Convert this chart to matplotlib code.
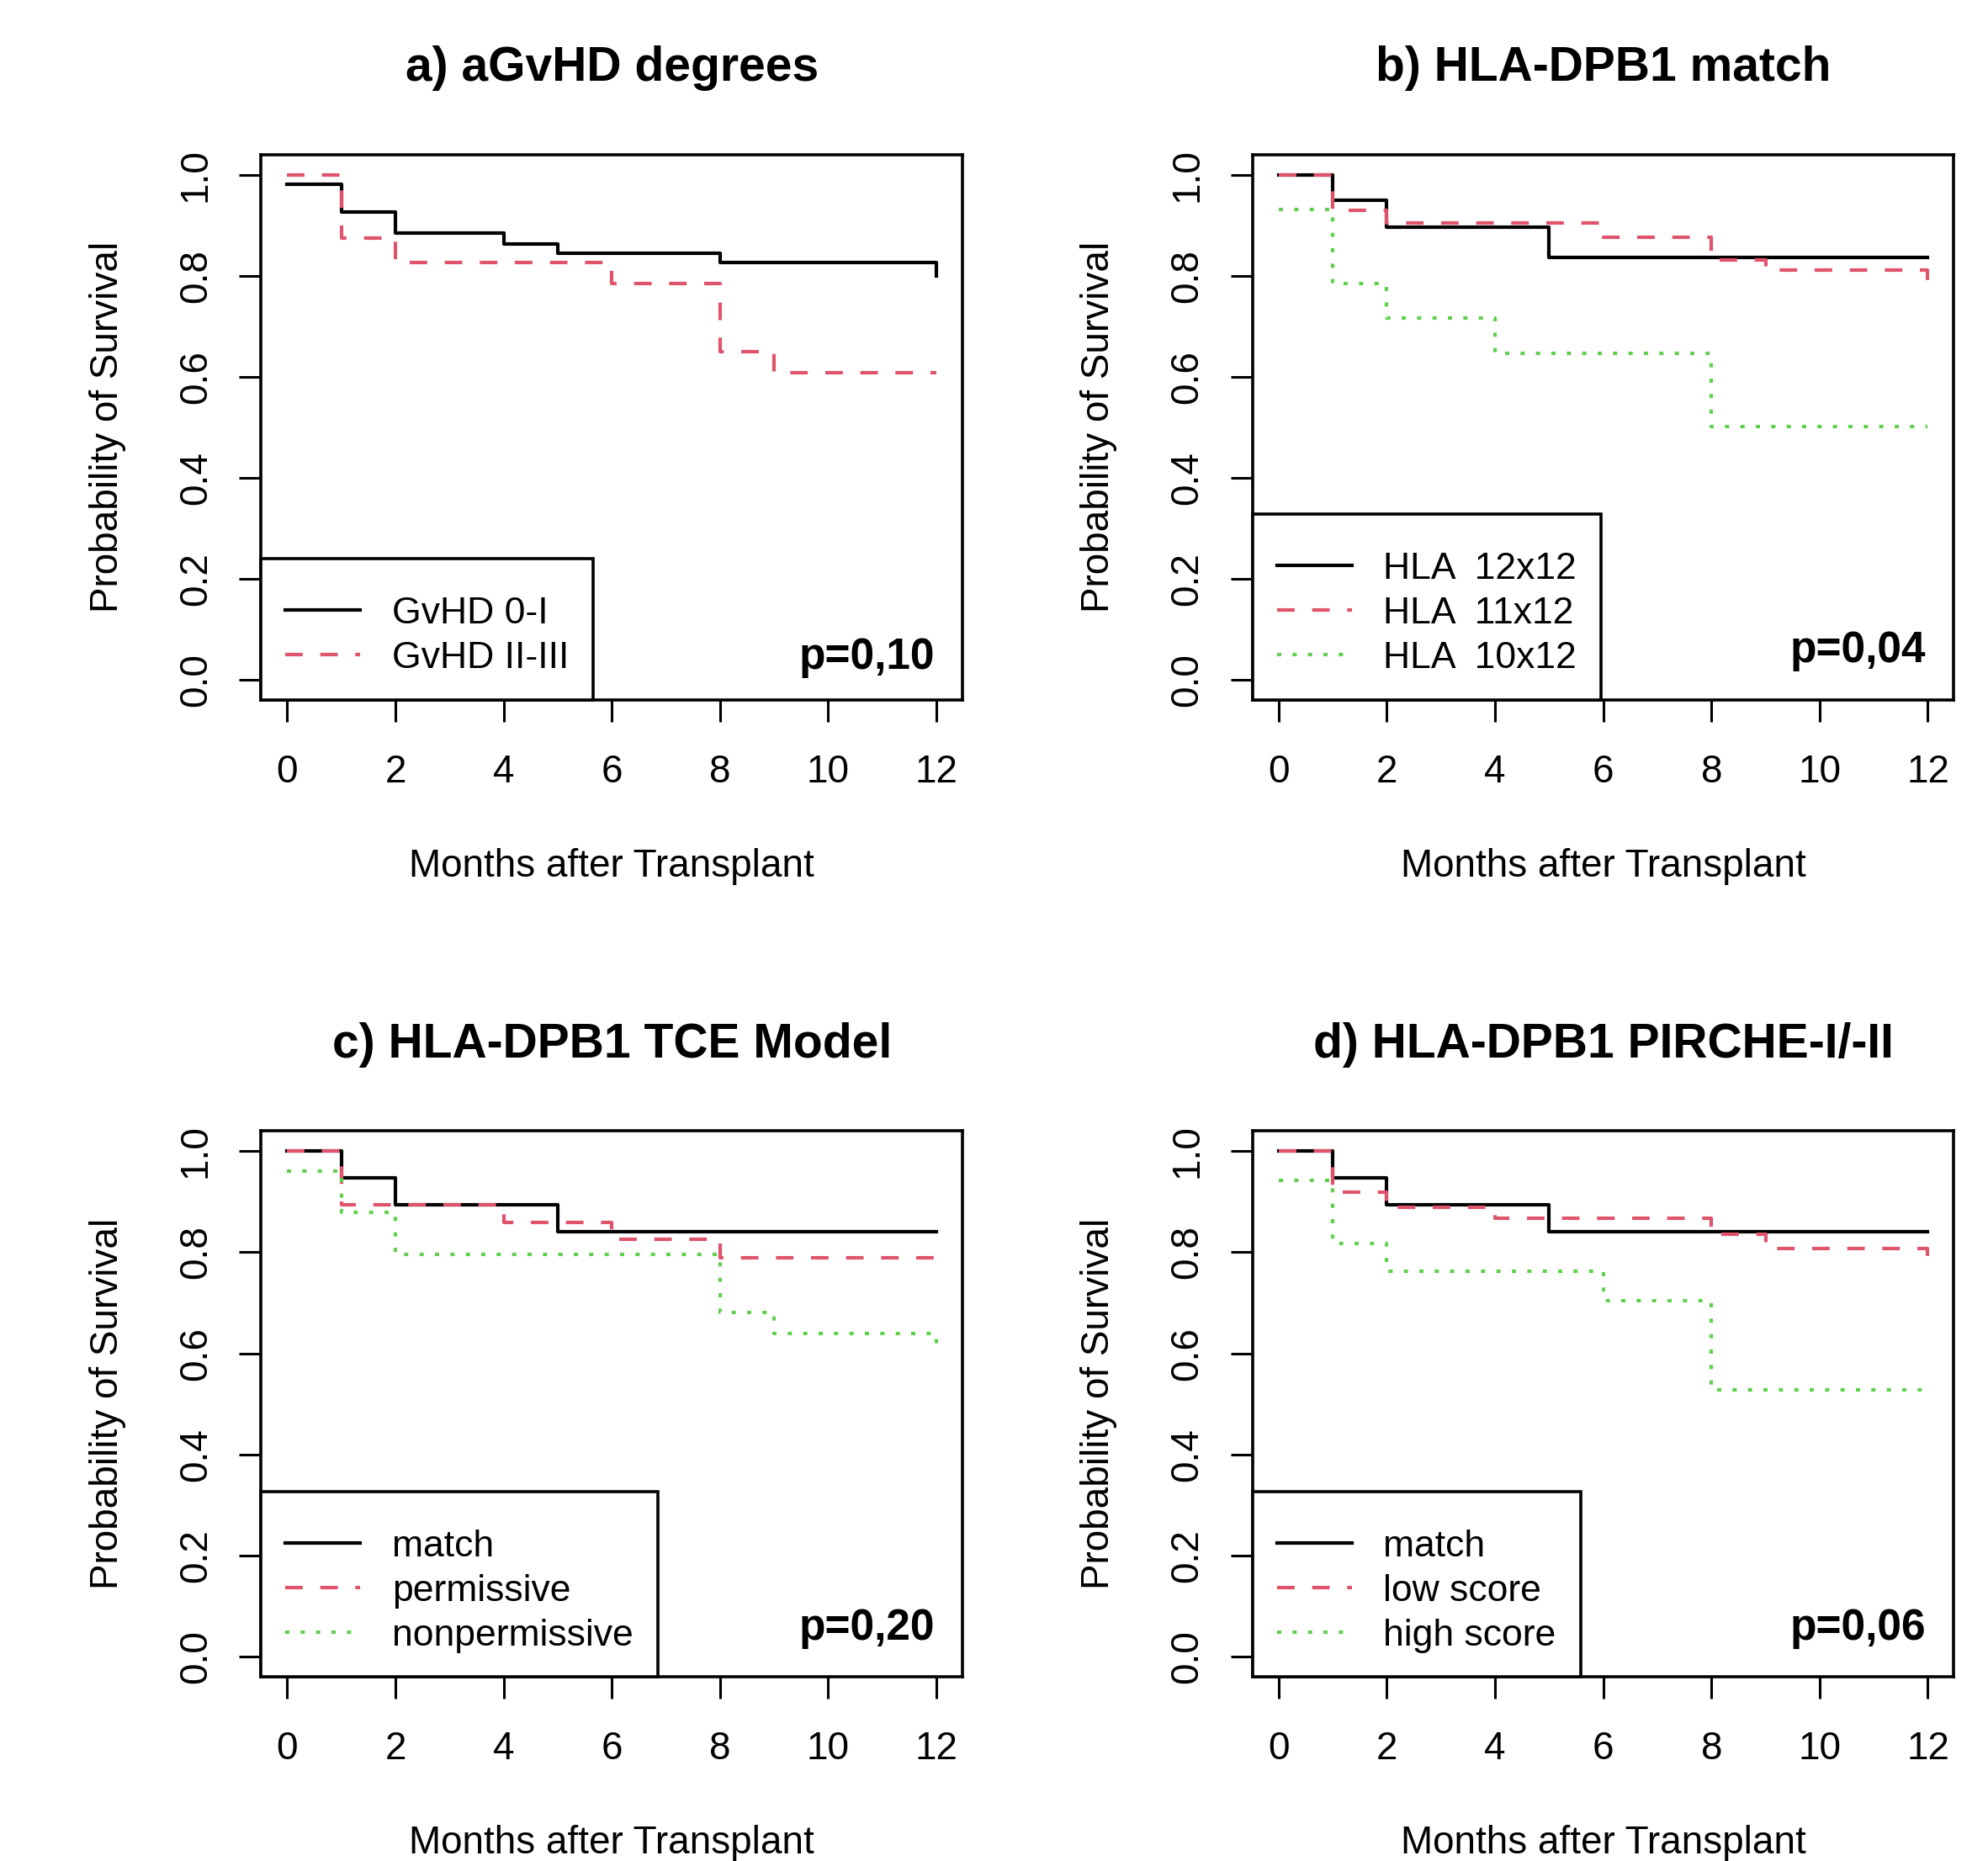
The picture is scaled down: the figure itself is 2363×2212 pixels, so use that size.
import matplotlib
matplotlib.use("Agg")
import matplotlib.pyplot as plt

plt.rcParams['font.family'] = ['Liberation Sans', 'DejaVu Sans']

RED = '#DF536B'
GREEN = '#61D04F'

# a) aGvHD degrees
a_titles = ["GvHD 0-I", "GvHD II-III"]
a_t0 = [0, 1, 2, 4, 5, 8, 12]
a_s0 = [0.982, 0.926, 0.885, 0.863, 0.845, 0.827, 0.80]
a_t1 = [0, 1, 2, 6, 8, 9, 12]
a_s1 = [1.0, 0.874, 0.827, 0.785, 0.650, 0.608, 0.608]

# b) HLA-DPB1 match
b_titles = ["HLA  12x12", "HLA  11x12", "HLA  10x12"]
b_t0 = [0, 1, 2, 5, 12]
b_s0 = [1.0, 0.949, 0.897, 0.836, 0.836]
b_t1 = [0, 1, 2, 6, 8, 9, 12]
b_s1 = [1.0, 0.930, 0.905, 0.877, 0.832, 0.811, 0.79]
b_t2 = [0, 1, 2, 4, 8, 12]
b_s2 = [0.931, 0.785, 0.717, 0.646, 0.501, 0.501]

# c) TCE model
c_titles = ["match", "permissive", "nonpermissive"]
c_t0 = [0, 1, 2, 5, 12]
c_s0 = [1.0, 0.947, 0.893, 0.840, 0.840]
c_t1 = [0, 1, 4, 6, 8, 12]
c_s1 = [1.0, 0.893, 0.858, 0.825, 0.789, 0.789]
c_t2 = [0, 1, 2, 8, 9, 12]
c_s2 = [0.961, 0.878, 0.796, 0.681, 0.639, 0.61]

# d) PIRCHE
d_titles = ["match", "low score", "high score"]
d_t0 = [0, 1, 2, 5, 12]
d_s0 = [1.0, 0.947, 0.893, 0.840, 0.840]
d_t1 = [0, 1, 2, 4, 8, 9, 12]
d_s1 = [1.0, 0.919, 0.889, 0.867, 0.836, 0.808, 0.79]
d_t2 = [0, 1, 2, 6, 8, 12]
d_s2 = [0.942, 0.818, 0.762, 0.704, 0.527, 0.527]

panels = [
    ("a) aGvHD degrees", [(a_t0, a_s0), (a_t1, a_s1)], a_titles, "p=0,10", 0.077),
    ("b) HLA-DPB1 match", [(b_t0, b_s0), (b_t1, b_s1), (b_t2, b_s2)], b_titles, "p=0,04", 0.09),
    ("c) HLA-DPB1 TCE Model", [(c_t0, c_s0), (c_t1, c_s1), (c_t2, c_s2)], c_titles, "p=0,20", 0.09),
    ("d) HLA-DPB1 PIRCHE-I/-II", [(d_t0, d_s0), (d_t1, d_s1), (d_t2, d_s2)], d_titles, "p=0,06", 0.09),
]
styles = [('black', '-'), (RED, (0, (5, 5))), (GREEN, (0, (1.2, 3.2)))]

# box positions [left, bottom, width, height]
boxes = [
    [0.1314, 0.624, 0.3527, 0.2929],
    [0.6301, 0.624, 0.3527, 0.2929],
    [0.1314, 0.0988, 0.3527, 0.2936],
    [0.6301, 0.0988, 0.3527, 0.2936],
]

fig = plt.figure(figsize=(23.63, 22.12), dpi=100)
fs = 33
for (title, curves, labels, ptxt, py), box in zip(panels, boxes):
    ax = fig.add_axes(box)
    for (t, s), (col, ls) in zip(curves, styles):
        ax.step(t, s, where='post', color=col, linestyle=ls, linewidth=3.0)
    ax.set_xlim(-0.48, 12.48)
    ax.set_ylim(-0.04, 1.04)
    ax.set_xticks([0, 2, 4, 6, 8, 10, 12])
    ax.set_yticks([0.0, 0.2, 0.4, 0.6, 0.8, 1.0])
    ax.set_yticklabels(["0.0", "0.2", "0.4", "0.6", "0.8", "1.0"], rotation=90, va='center')
    ax.tick_params(direction='out', length=19, width=2.2, labelsize=fs)
    ax.tick_params(axis='x', pad=27)
    ax.tick_params(axis='y', pad=21)
    for sp in ax.spines.values():
        sp.set_linewidth(2.6)
    ax.set_title(title, fontsize=41, fontweight='bold', pad=63)
    ax.set_xlabel("Months after Transplant", fontsize=fs, labelpad=49)
    ax.set_ylabel("Probability of Survival", fontsize=fs, labelpad=44)
    # tiny blank title gives the extra top space R leaves in its legend box
    leg = ax.legend(labels, loc='lower left', bbox_to_anchor=(0, 0), borderaxespad=0,
                    fontsize=32, handlelength=2.0, handletextpad=0.85, labelspacing=0.27,
                    borderpad=0.65, fancybox=False, framealpha=1, edgecolor='black',
                    title=' ', title_fontsize=3)
    leg.get_frame().set_linewidth(2.6)
    ax.text(0.96, py, ptxt, transform=ax.transAxes, ha='right', va='center',
            fontsize=37, fontweight='bold')

fig.savefig("out.png", dpi=100)
